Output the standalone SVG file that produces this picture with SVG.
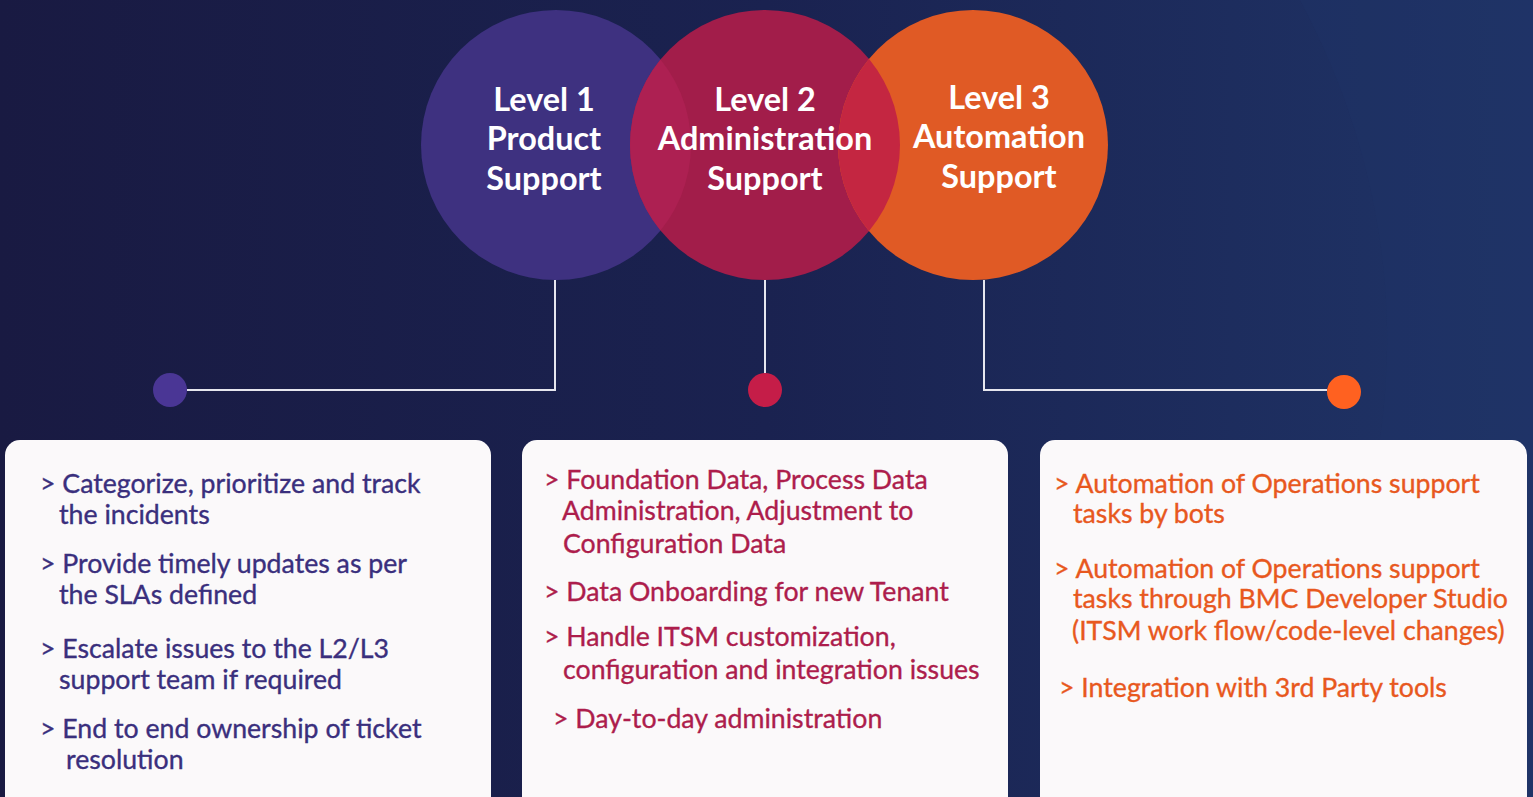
<svg xmlns="http://www.w3.org/2000/svg" width="1533" height="797" viewBox="0 0 1533 797">
<defs>
<linearGradient id="bg" x1="0" y1="0" x2="1" y2="0">
<stop offset="0" stop-color="#191a42"/>
<stop offset="0.5" stop-color="#1a2250"/>
<stop offset="1" stop-color="#1f3467"/>
</linearGradient>
<clipPath id="c1"><circle cx="556" cy="145" r="135"/></clipPath>
<clipPath id="c3"><circle cx="973" cy="145" r="135"/></clipPath>
</defs>
<style>
.title{font-family:Lato,"Liberation Sans",sans-serif;font-weight:700;font-size:32.4px;fill:#ffffff;text-anchor:middle}
.item{font-family:Lato,"Liberation Sans",sans-serif;font-size:26.7px;stroke-width:0.35}
.t1{fill:#3a2f7d;stroke:#3a2f7d}.t2{fill:#ad1d4c;stroke:#ad1d4c}.t3{fill:#e8581e;stroke:#e8581e}
.box{fill:#fbf9fa}
.conn{fill:none;stroke:#e6e6ee;stroke-width:2}
</style>
<rect width="1533" height="797" fill="url(#bg)"/>
<path d="M1300 0 C1380 150 1400 300 1380 440 L1533 440 L1533 0 Z" fill="#203468" opacity="0.35"/>
<g id="connectors">
<polyline class="conn" points="555,280 555,390 187,390"/>
<line class="conn" x1="765" y1="280" x2="765" y2="373"/>
<polyline class="conn" points="984,280 984,390 1327,390"/>
</g>
<g id="level1">
<circle cx="556" cy="145" r="135" fill="#3e3180"/>
<circle cx="170" cy="390" r="17" fill="#4a3695"/>
</g>
<g id="level2">
<circle cx="765" cy="145" r="135" fill="#a21d4a"/>
<circle cx="765" cy="145" r="135" fill="#ad2052" clip-path="url(#c1)"/>
<circle cx="765" cy="390" r="17" fill="#c51d48"/>
</g>
<g id="level3">
<circle cx="973" cy="145" r="135" fill="#e05a25"/>
<circle cx="765" cy="145" r="135" fill="#c42641" clip-path="url(#c3)"/>
<circle cx="1344" cy="392" r="17" fill="#ff6120"/>
</g>
<g id="titles">
<text class="title" x="544" y="111">Level 1</text>
<text class="title" x="544" y="150">Product</text>
<text class="title" x="544" y="190">Support</text>
<text class="title" x="765" y="111">Level 2</text>
<text class="title" x="765" y="150">Administration</text>
<text class="title" x="765" y="190">Support</text>
<text class="title" x="999" y="109">Level 3</text>
<text class="title" x="999" y="148">Automation</text>
<text class="title" x="999" y="188">Support</text>
</g>
<g id="box1">
<rect class="box" x="5" y="440" width="486" height="380" rx="15"/>
<text class="item t1" x="40" y="493">&gt; Categorize, prioritize and track</text>
<text class="item t1" x="59" y="524">the incidents</text>
<text class="item t1" x="40" y="573">&gt; Provide timely updates as per</text>
<text class="item t1" x="59" y="604">the SLAs defined</text>
<text class="item t1" x="40" y="658">&gt; Escalate issues to the L2/L3</text>
<text class="item t1" x="59" y="689">support team if required</text>
<text class="item t1" x="40" y="738">&gt; End to end ownership of ticket</text>
<text class="item t1" x="66" y="769">resolution</text>
</g>
<g id="box2">
<rect class="box" x="522" y="440" width="486" height="380" rx="15"/>
<text class="item t2" x="544" y="489">&gt; Foundation Data, Process Data</text>
<text class="item t2" x="562" y="520">Administration, Adjustment to</text>
<text class="item t2" x="563" y="553">Configuration Data</text>
<text class="item t2" x="544" y="601">&gt; Data Onboarding for new Tenant</text>
<text class="item t2" x="544" y="646">&gt; Handle ITSM customization,</text>
<text class="item t2" x="563" y="679">configuration and integration issues</text>
<text class="item t2" x="553" y="728">&gt; Day-to-day administration</text>
</g>
<g id="box3">
<rect class="box" x="1040" y="440" width="487" height="380" rx="15"/>
<text class="item t3" x="1054" y="493">&gt; Automation of Operations support</text>
<text class="item t3" x="1073" y="523">tasks by bots</text>
<text class="item t3" x="1054" y="578">&gt; Automation of Operations support</text>
<text class="item t3" x="1073" y="608">tasks through BMC Developer Studio</text>
<text class="item t3" x="1072" y="640">(ITSM work flow/code-level changes)</text>
<text class="item t3" x="1059" y="697">&gt; Integration with 3rd Party tools</text>
</g>
</svg>
